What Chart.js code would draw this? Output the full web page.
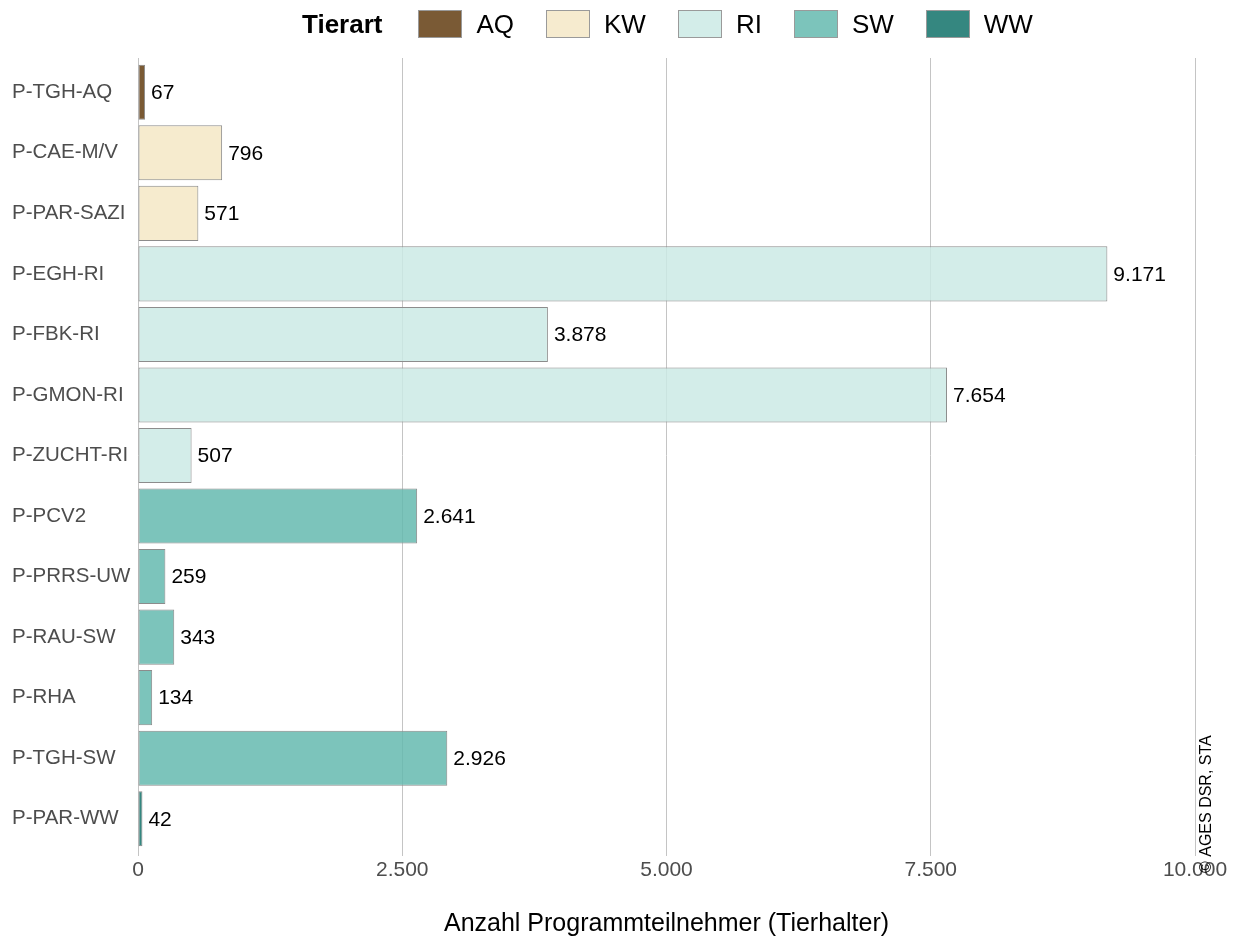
<!DOCTYPE html>
<html>
<head>
<meta charset="utf-8">
<script src="https://cdn.jsdelivr.net/npm/chart.js@4"></script>
<style>
  body { margin: 0; background: #fff; font-family: "Liberation Sans", Arial, sans-serif; }
  #wrap { position: relative; width: 1233px; height: 939px; }
  #legend { position: absolute; left: 302px; top: 10px; height: 28px; display: flex; align-items: center; font-size: 26px; color: #000; }
  #legend .title { font-weight: bold; margin-right: 36px; }
  #legend .box { width: 42px; height: 26px; border: 1px solid #9a9a9a; margin-right: 14px; }
  #legend .lbl { margin-right: 32px; }
</style>
</head>
<body>
<div id="wrap">
  <canvas id="chart" width="1233" height="939"></canvas>
  <div id="legend"></div>
</div>
<script>
const categories = ['P-TGH-AQ', 'P-CAE-M/V', 'P-PAR-SAZI', 'P-EGH-RI', 'P-FBK-RI', 'P-GMON-RI', 'P-ZUCHT-RI',
  'P-PCV2', 'P-PRRS-UW', 'P-RAU-SW', 'P-RHA', 'P-TGH-SW', 'P-PAR-WW'];
const values = [67, 796, 571, 9171, 3878, 7654, 507, 2641, 259, 343, 134, 2926, 42];
const tierart = ['AQ', 'KW', 'KW', 'RI', 'RI', 'RI', 'RI', 'SW', 'SW', 'SW', 'SW', 'SW', 'WW'];
const tierarten = ['AQ', 'KW', 'RI', 'SW', 'WW'];
const xTicks = [0, 2500, 5000, 7500, 10000];

// colours as they look on white, bars drawn slightly transparent
const tierColors = {
  AQ: 'rgb(122,90,53)',
  KW: 'rgb(246,235,207)',
  RI: 'rgb(211,237,233)',
  SW: 'rgb(124,196,187)',
  WW: 'rgb(53,135,128)'
};
const barColors = {
  AQ: 'rgba(99,61,17,0.85)',
  KW: 'rgba(244,231,198,0.85)',
  RI: 'rgba(203,234,229,0.85)',
  SW: 'rgba(101,186,175,0.85)',
  WW: 'rgba(17,114,106,0.85)'
};

const FONT = '"Liberation Sans", Arial, sans-serif';
const GRID = '#c4c4c4';

function fmt(n) {
  return String(n).replace(/\B(?=(\d{3})+(?!\d))/g, '.');
}

// legend row
const legend = document.getElementById('legend');
legend.innerHTML = '<span class="title">Tierart</span>' + tierarten.map(t =>
  `<span class="box" style="background:${tierColors[t]}"></span><span class="lbl">${t}</span>`).join('');

// let the vertical grid lines run a little above the plot, like ggplot's expansion
const gridExtend = {
  id: 'gridExtend',
  beforeDatasetsDraw(chart) {
    const ctx = chart.ctx;
    const x = chart.scales.x;
    const top = chart.chartArea.top;
    ctx.save();
    ctx.strokeStyle = GRID;
    ctx.lineWidth = 1;
    xTicks.forEach(v => {
      const px = Math.round(x.getPixelForValue(v) - 0.5) + 0.5; // same snapping as Chart.js grid
      ctx.beginPath();
      ctx.moveTo(px, top - 4);
      ctx.lineTo(px, top);
      ctx.stroke();
    });
    ctx.restore();
  }
};

// value labels at the end of each bar
const valueLabels = {
  id: 'valueLabels',
  afterDatasetsDraw(chart) {
    const ctx = chart.ctx;
    const meta = chart.getDatasetMeta(0);
    ctx.save();
    ctx.font = '21px ' + FONT;
    ctx.fillStyle = '#000';
    ctx.textAlign = 'left';
    ctx.textBaseline = 'middle';
    meta.data.forEach((bar, i) => {
      ctx.fillText(fmt(values[i]), bar.x + 6, bar.y + 1);
    });
    ctx.restore();
  }
};

// source note, rotated along the right edge
const sourceNote = {
  id: 'sourceNote',
  afterDraw(chart) {
    const ctx = chart.ctx;
    ctx.save();
    ctx.translate(chart.chartArea.right + 12, 873);
    ctx.rotate(-Math.PI / 2);
    ctx.font = '16px ' + FONT;
    ctx.fillStyle = '#000';
    ctx.textAlign = 'left';
    ctx.textBaseline = 'middle';
    ctx.fillText('© AGES DSR, STA', 0, 0);
    ctx.restore();
  }
};

new Chart(document.getElementById('chart'), {
  type: 'bar',
  data: {
    labels: categories,
    datasets: [{
      data: values,
      backgroundColor: tierart.map(t => barColors[t]),
      borderColor: '#8c8c8c',
      borderWidth: 1,
      borderSkipped: false,
      categoryPercentage: 1,
      barPercentage: 0.91
    }]
  },
  options: {
    indexAxis: 'y',
    responsive: false,
    animation: false,
    layout: { padding: { top: 62, left: 12, right: 38, bottom: 0 } },
    plugins: {
      legend: { display: false },
      tooltip: { enabled: false }
    },
    scales: {
      x: {
        min: 0,
        max: 10000,
        afterBuildTicks(axis) { axis.ticks = xTicks.map(v => ({ value: v })); },
        afterFit(axis) {
          axis.height = 90;
          axis.paddingLeft = 0;
          axis.paddingRight = 0;
        },
        border: { display: false },
        grid: { color: GRID, lineWidth: 1, drawTicks: true, tickLength: 7 },
        ticks: {
          padding: 2,
          color: '#4d4d4d',
          font: { family: FONT, size: 21 },
          maxRotation: 0,
          callback: v => fmt(v)
        },
        title: {
          display: true,
          text: 'Anzahl Programmteilnehmer (Tierhalter)',
          color: '#000',
          font: { family: FONT, size: 25 },
          padding: { top: 10, bottom: 0 }
        }
      },
      y: {
        afterFit(axis) { axis.width = 126; },
        border: { display: false },
        grid: { display: false },
        ticks: {
          crossAlign: 'far',
          padding: 10,
          color: '#4d4d4d',
          font: { family: FONT, size: 20.5 }
        }
      }
    }
  },
  plugins: [gridExtend, valueLabels, sourceNote]
});
</script>
</body>
</html>
